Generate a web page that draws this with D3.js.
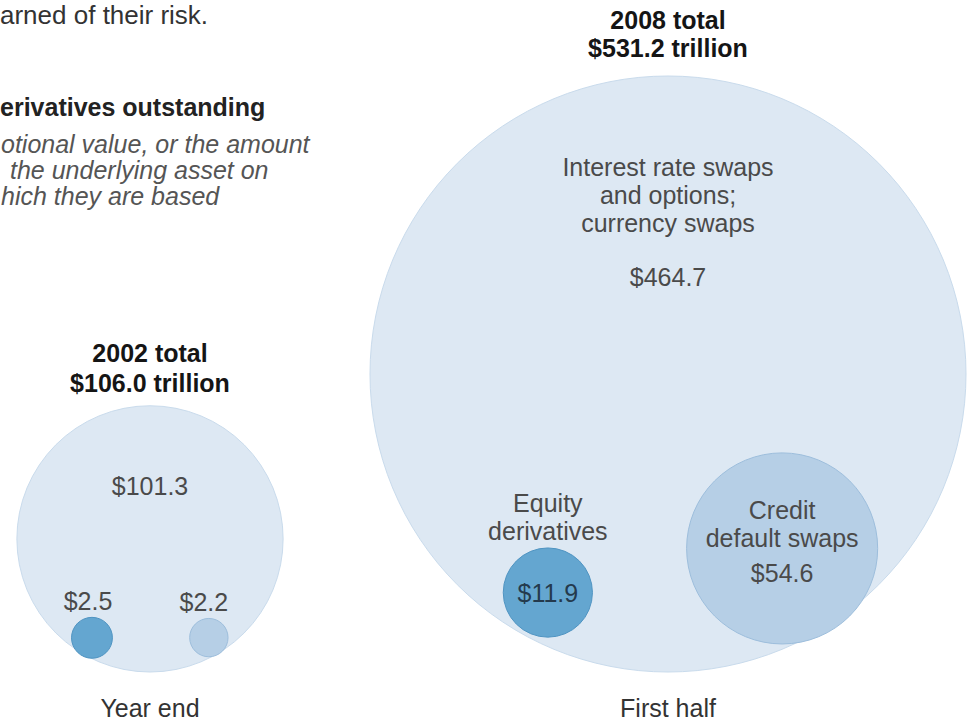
<!DOCTYPE html>
<html>
<head>
<meta charset="utf-8">
<script src="https://cdn.jsdelivr.net/npm/d3@7"></script>
<style>
  html, body { margin: 0; padding: 0; background: #fff; }
  svg { display: block; font-family: "Liberation Sans", Arial, Helvetica, sans-serif; }
</style>
</head>
<body>
<svg id="chart" width="972" height="721"></svg>
<script>
// data
let years = ["2002", "2008"];
let totals = [106.0, 531.2];
let periods = ["Year end", "First half"];
let interestRate = [101.3, 464.7];
let equity = [2.5, 11.9];
let creditDefault = [2.2, 54.6];

// the source is a crop, so these lines start part-way through a word
let introText = ["arned of their risk."];
let headText = ["erivatives outstanding"];
let noteText = ["otional value, or the amount", "the underlying asset on", "hich they are based"];

let svg = d3.select("#chart");
let baseY = 672;

// area-true radius
let r = d3.scaleSqrt().domain([0, 531.2]).range([0, 298]);
let cx = d3.scalePoint().domain(years).range([150, 668]);

let colors = {
    big: "#dde8f3", bigStroke: "#c9dbec",
    equity: "#64a6d0", equityStroke: "#4f94c2",
    credit: "#b6cfe6", creditStroke: "#9dbedc",
    label: "#4a4a4a", title: "#151515"
};

// small circles sit against the edge of the big one (angle in degrees, y down)
let place = {
    equity: [{ang: 120.4, off: 2}, {ang: 118.8, off: -4}],
    credit: [{ang: 59.2, off: 1}, {ang: 56.8, off: 6}]
};

let fs = 25;

let intro = svg.append("g").attr("fill", "#333");
intro.append("text").attr("x", 0).attr("y", 24)
    .attr("font-size", 26).text(introText[0]);
intro.append("text").attr("x", 0).attr("y", 116)
    .attr("font-size", fs).attr("font-weight", "bold").attr("fill", "#222").text(headText[0]);
intro.selectAll("text.note").data(noteText).enter().append("text")
    .attr("class", "note")
    .attr("x", (d, i) => [1, 10, 1][i])
    .attr("y", (d, i) => 153 + i * 26)
    .attr("font-size", fs).attr("font-style", "italic").attr("fill", "#555")
    .text(d => d);

years.forEach(function (yr, i) {
    let R = r(totals[i]);
    let x0 = cx(yr), y0 = baseY - R;
    let g = svg.append("g");

    g.append("circle").attr("cx", x0).attr("cy", y0).attr("r", R)
        .attr("fill", colors.big).attr("stroke", colors.bigStroke).attr("stroke-width", 1);

    function inner(v, p) {
        let rr = r(v), a = p.ang * Math.PI / 180, d = R - rr + p.off;
        return {x: x0 + d * Math.cos(a), y: y0 + d * Math.sin(a), r: rr};
    }
    let eq = inner(equity[i], place.equity[i]);
    let cr = inner(creditDefault[i], place.credit[i]);

    g.append("circle").attr("cx", cr.x).attr("cy", cr.y).attr("r", cr.r)
        .attr("fill", colors.credit).attr("stroke", colors.creditStroke).attr("stroke-width", 1);
    g.append("circle").attr("cx", eq.x).attr("cy", eq.y).attr("r", eq.r)
        .attr("fill", colors.equity).attr("stroke", colors.equityStroke).attr("stroke-width", 1);

    // titles
    g.append("text").attr("x", x0).attr("y", y0 - R - (i ? 47 : 44))
        .attr("text-anchor", "middle").attr("font-size", fs).attr("font-weight", "bold")
        .attr("fill", colors.title).text(yr + " total");
    g.append("text").attr("x", x0).attr("y", y0 - R - (i ? 19 : 14))
        .attr("text-anchor", "middle").attr("font-size", fs).attr("font-weight", "bold")
        .attr("fill", colors.title).text("$" + totals[i].toFixed(1) + " trillion");

    g.append("text").attr("x", x0).attr("y", 717)
        .attr("text-anchor", "middle").attr("font-size", fs).attr("fill", "#333").text(periods[i]);

    let lab = g.append("g").attr("text-anchor", "middle").attr("font-size", fs).attr("fill", colors.label);
    if (i === 0) {
        lab.append("text").attr("x", x0).attr("y", y0 - 44).text("$" + interestRate[i].toFixed(1));
        lab.append("text").attr("x", eq.x - 4).attr("y", eq.y - eq.r - 7).text("$" + equity[i].toFixed(1));
        lab.append("text").attr("x", cr.x - 5).attr("y", cr.y - cr.r - 7).text("$" + creditDefault[i].toFixed(1));
    } else {
        ["Interest rate swaps", "and options;", "currency swaps"].forEach(function (t, j) {
            lab.append("text").attr("x", x0).attr("y", y0 - 198 + j * 28).text(t);
        });
        lab.append("text").attr("x", x0).attr("y", y0 - 88).text("$" + interestRate[i].toFixed(1));
        lab.append("text").attr("x", eq.x).attr("y", eq.y - eq.r - 36).text("Equity");
        lab.append("text").attr("x", eq.x).attr("y", eq.y - eq.r - 8).text("derivatives");
        lab.append("text").attr("x", eq.x).attr("y", eq.y + 9).attr("fill", "#243a4d").text("$" + equity[i].toFixed(1));
        lab.append("text").attr("x", cr.x).attr("y", cr.y - 29).text("Credit");
        lab.append("text").attr("x", cr.x).attr("y", cr.y - 1).text("default swaps");
        lab.append("text").attr("x", cr.x).attr("y", cr.y + 34).text("$" + creditDefault[i].toFixed(1));
    }
});
</script>
</body>
</html>
